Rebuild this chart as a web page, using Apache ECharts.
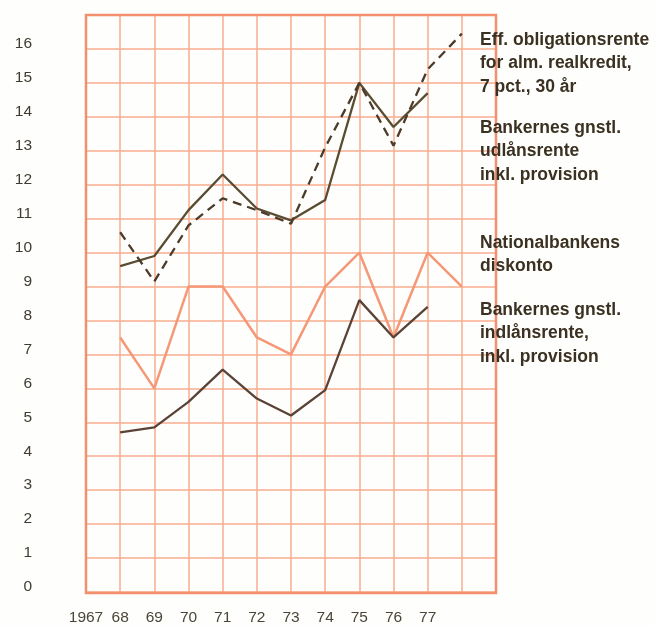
<!DOCTYPE html>
<html>
<head>
<meta charset="utf-8">
<script src="https://cdn.jsdelivr.net/npm/echarts@6/dist/echarts.min.js"></script>
<style>
  html, body { margin: 0; padding: 0; background: #fefefc; }
  #chart { width: 655px; height: 626px; }
</style>
</head>
<body>
<div id="chart"></div>
<script>
// år (x-akse)
var years = [1968, 1969, 1970, 1971, 1972, 1973, 1974, 1975, 1976, 1977, 1978];
var yearsIndlaan = [1968, 1969, 1970, 1971, 1972, 1973, 1974, 1975, 1976, 1977];

// renteserier, pct.
var obligationsrente = [10.6, 9.15, 10.8, 11.6, 11.25, 10.85, 13.1, 15.0, 13.15, 15.4, 16.45];
var udlaansrente = [9.6, 9.9, 11.25, 12.3, 11.3, 10.95, 11.55, 15.0, 13.7, 14.7];
var diskonto = [7.5, 6.0, 9.0, 9.0, 7.5, 7.0, 9.0, 10.0, 7.5, 10.0, 9.0];
var indlaansrente = [4.7, 4.85, 5.6, 6.55, 5.7, 5.2, 5.95, 8.6, 7.5, 8.4];

// tekster til højre
var labelBlocks = [
	{ y: 40, lines: ['Eff. obligationsrente', 'for alm. realkredit,', '7 pct., 30 år'] },
	{ y: 128, lines: ['Bankernes gnstl.', 'udlånsrente', 'inkl. provision'] },
	{ y: 243, lines: ['Nationalbankens', 'diskonto'] },
	{ y: 310, lines: ['Bankernes gnstl.', 'indlånsrente,', 'inkl. provision'] }
];

function pairs(xs, ys) {
	return ys.map(function(v, i) { return [xs[i], v]; });
}

var gridColor = '#f7ac8e';
var textColor = '#3b3122';

var graphics = [];
labelBlocks.forEach(function(b) {
	b.lines.forEach(function(t, i) {
		graphics.push({
			type: 'text',
			x: 480,
			y: b.y + i * 23.5,
			z: 10,
			style: {
				text: t,
				fill: textColor,
				verticalAlign: 'middle',
				font: 'bold 17.5px "Liberation Sans", Arial, sans-serif'
			}
		});
	});
});

var chart = echarts.init(document.getElementById('chart'));
chart.setOption({
	backgroundColor: '#fefefc',
	animation: false,
	grid: { left: 86, right: 159, top: 15, bottom: 33 },
	xAxis: {
		type: 'value',
		min: 1967,
		max: 1979,
		interval: 1,
		axisLine: { show: false },
		axisTick: { show: false },
		splitLine: { show: true, lineStyle: { color: gridColor, width: 1.5 } },
		axisLabel: {
			margin: 18,
			color: '#4a4536',
			fontSize: 15.5,
			fontFamily: '"Liberation Sans", Arial, sans-serif',
			formatter: function(v) {
				if (v === 1967) return '1967';
				if (v > 1967 && v <= 1977) return String(v).slice(2);
				return '';
			}
		}
	},
	yAxis: {
		type: 'value',
		min: 0,
		max: 17,
		interval: 1,
		axisLine: { show: false },
		axisTick: { show: false },
		splitLine: { show: true, lineStyle: { color: gridColor, width: 1.5 } },
		axisLabel: {
			margin: 54,
			color: '#3f3b33',
			fontSize: 15.5,
			fontFamily: '"Liberation Sans", Arial, sans-serif',
			verticalAlign: 'bottom',
			lineHeight: 10,
			formatter: function(v) { return v <= 16 ? String(v) : ''; }
		}
	},
	graphic: graphics.concat([{
		type: 'rect',
		shape: { x: 86, y: 15, width: 410, height: 578 },
		style: { fill: 'none', stroke: '#f3916e', lineWidth: 2.5 },
		z: 1,
		silent: true
	}]),
	series: [
		{
			name: 'Eff. obligationsrente',
			type: 'line',
			data: pairs(years, obligationsrente),
			symbol: 'none',
			lineStyle: { color: '#4b3b2b', width: 2.3, type: [9, 6] },
			z: 5
		},
		{
			name: 'Bankernes gnstl. udlånsrente',
			type: 'line',
			data: pairs(yearsIndlaan, udlaansrente),
			symbol: 'none',
			lineStyle: { color: '#5a4c32', width: 2.3 },
			z: 4
		},
		{
			name: 'Nationalbankens diskonto',
			type: 'line',
			data: pairs(years, diskonto),
			symbol: 'none',
			lineStyle: { color: '#f59877', width: 2.5 },
			z: 3
		},
		{
			name: 'Bankernes gnstl. indlånsrente',
			type: 'line',
			data: pairs(yearsIndlaan, indlaansrente),
			symbol: 'none',
			lineStyle: { color: '#5b4236', width: 2.3 },
			z: 4
		}
	]
});
</script>
</body>
</html>
